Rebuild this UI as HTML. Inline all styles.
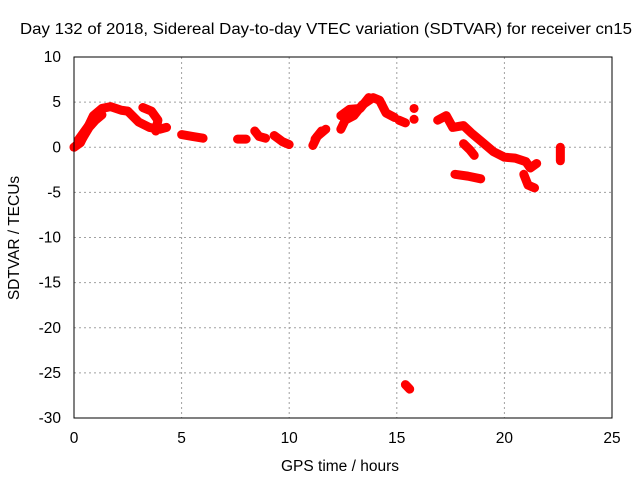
<!DOCTYPE html>
<html><head><meta charset="utf-8"><style>
body{margin:0;background:#fff}
svg{display:block;font-family:"Liberation Sans",sans-serif}
</style></head><body>
<svg id="chart" width="640" height="480">
<rect x="0" y="0" width="640" height="480" fill="#fff"/>
<text x="20" y="34" font-size="15.5" textLength="612" lengthAdjust="spacingAndGlyphs">Day 132 of 2018, Sidereal Day-to-day VTEC variation (SDTVAR) for receiver cn15</text>
<text x="340" y="471" font-size="15.5" text-anchor="middle">GPS time / hours</text>
<text transform="translate(19,238) rotate(-90)" font-size="15.5" text-anchor="middle">SDTVAR / TECUs</text>
<g id="grid"></g><g id="marks"></g>
<rect x="74" y="57" width="538" height="361" fill="none" stroke="#000" stroke-width="1"/>
</svg>
<script>
const xTicks=[0,5,10,15,20,25];
const yTicks=[10,5,0,-5,-10,-15,-20,-25,-30];
const trackHours=[
[0,0.3,0.6,0.9,1.3,1.7,2.2,2.5],
[0.1,0.4,0.7,1.0,1.3],
[0.2,0.5,0.8,1.1],
[2.5,3.0,3.5,4.0,4.3],
[3.2,3.6,3.9,3.8],
[5.0,5.5,6.0],
[7.6,8.0],
[8.4,8.6,8.9],
[9.3,9.7,10.0],
[11.1,11.3,11.7],
[11.2,11.5],
[12.4,12.6,13.0,13.4,13.9,14.2,14.5,14.9],
[12.4,12.8,13.3,13.7],
[15.1,15.4],
[15.8],[15.8],
[16.9,17.3,17.6,18.1,18.5,19.0,19.5,20.0,20.5,21.0,21.2,21.5],
[18.1,18.4,18.6],
[17.7,18.3,18.9],
[20.9,21.1,21.4],
[22.6,22.6],
[15.4,15.6]
];
const trackValues=[
[0,0.5,2,3.5,4.3,4.5,4.1,4.0],
[0.2,1.0,2.2,3.0,3.6],
[0.8,1.8,2.8,3.8],
[4.0,2.8,2.2,2.0,2.2],
[4.4,4.0,3.0,1.8],
[1.4,1.2,1.0],
[0.9,0.9],
[1.8,1.2,1.0],
[1.3,0.6,0.3],
[0.2,1.2,2.0],
[0.9,1.8],
[2.0,3.0,3.5,4.7,5.5,5.2,3.8,3.3],
[3.5,4.2,4.3,5.5],
[3.0,2.7],
[4.3],[3.1],
[3.0,3.5,2.2,2.4,1.5,0.5,-0.5,-1.1,-1.2,-1.6,-2.3,-1.8],
[0.4,-0.3,-0.9],
[-3.0,-3.2,-3.5],
[-3.0,-4.2,-4.5],
[0,-1.5],
[-26.3,-26.8]
];
const X=h=>74+h*538/25, Y=v=>147.25-v*9.025;
const ns="http://www.w3.org/2000/svg";
const grid=document.getElementById('grid'), marks=document.getElementById('marks'), svg=document.getElementById('chart');
xTicks.forEach(t=>{
  const x=X(t);
  if(t>0&&t<25){const l=document.createElementNS(ns,'line');
  l.setAttribute('x1',x);l.setAttribute('x2',x);l.setAttribute('y1',57);l.setAttribute('y2',418);
  l.setAttribute('stroke','#a0a0a0');l.setAttribute('stroke-dasharray','2,3');
  
  grid.appendChild(l);}
  const tx=document.createElementNS(ns,'text');tx.setAttribute('x',x);tx.setAttribute('y',443);
  tx.setAttribute('font-size','15.5');tx.setAttribute('text-anchor','middle');tx.textContent=t;
  
  svg.appendChild(tx);
});
yTicks.forEach(t=>{
  const y=Y(t);
  if(t<10&&t>-30){const l=document.createElementNS(ns,'line');
  l.setAttribute('x1',74);l.setAttribute('x2',612);l.setAttribute('y1',y);l.setAttribute('y2',y);
  l.setAttribute('stroke','#a0a0a0');l.setAttribute('stroke-dasharray','2,3');
  
  grid.appendChild(l);}
  const tx=document.createElementNS(ns,'text');tx.setAttribute('x',61);tx.setAttribute('y',y+5);
  tx.setAttribute('font-size','15.5');tx.setAttribute('text-anchor','end');tx.textContent=t;
  
  svg.appendChild(tx);
});
trackHours.forEach((hs,i)=>{
  const vs=trackValues[i];
  const pts=hs.map((h,j)=>X(h)+','+Y(vs[j])).join(' ');
  const p=document.createElementNS(ns,'polyline');
  p.setAttribute('points',hs.length>1?pts:pts+' '+(X(hs[0])+0.1)+','+Y(vs[0]));
  p.setAttribute('fill','none');p.setAttribute('stroke','#ff0000');p.setAttribute('stroke-width','9');
  p.setAttribute('stroke-linejoin','round');p.setAttribute('stroke-linecap','round');
  
  marks.appendChild(p);
});
</script>
</body></html>
